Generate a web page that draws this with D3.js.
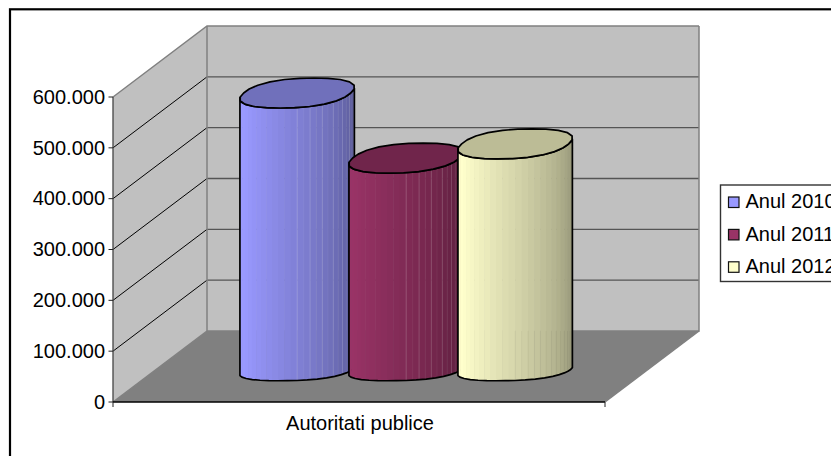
<!DOCTYPE html>
<html><head><meta charset="utf-8"><style>html,body{margin:0;background:#fff;overflow:hidden}svg{display:block}text{font-family:"Liberation Sans",Arial,sans-serif;fill:#000}</style>
<script src="https://cdn.jsdelivr.net/npm/d3@7"></script></head><body><svg id="c" width="831" height="456"></svg>
<script>
const categories=["Autoritati publice"];
const seriesNames=["Anul 2010","Anul 2011","Anul 2012"];
const seriesValues=[541000,413000,441000];
const yTicks=[0,100000,200000,300000,400000,500000,600000];
const lightColors=["#9999ff","#993366","#ffffcc"];
const topColors=["#7070bb","#70254b","#bcbc96"];
const svg=d3.select("#c");
const y=d3.scaleLinear().domain([0,600000]).range([402,97]);
const x=d3.scaleBand().domain(categories).range([113,605]);
const dx=d3.scaleLinear().domain([0,1]).range([0,94]);
const dy=d3.scaleLinear().domain([0,1]).range([0,-71]);
const fmt=v=>d3.format(",")(v).replace(/,/g,".");
const L=d3.line();
const x0=x.range()[0],x1=x.range()[1];
const FS=20;
svg.append("rect").attr("x",10).attr("y",9.3).attr("width",900).attr("height",600).attr("fill","#fff").attr("stroke","#000").attr("stroke-width",2.2);
const pts=(a)=>a.map(p=>p.join(",")).join(" ");
const P=(xx,v,d)=>[xx+dx(d),y(v)+dy(d)];
svg.append("polygon").attr("points",pts([P(x0,0,1),P(x1,0,1),P(x1,600000,1),P(x0,600000,1)])).attr("fill","#c0c0c0");
svg.append("polygon").attr("points",pts([P(x0,0,0),P(x0,0,1),P(x0,600000,1),P(x0,600000,0)])).attr("fill","#c0c0c0");
svg.append("polygon").attr("points",pts([P(x0,0,0),P(x0,0,1),P(x1,0,1),P(x1,0,0)])).attr("fill","#808080");
yTicks.slice(1,-1).forEach(v=>{
 svg.append("path").attr("d",L([P(x0,v,0),P(x0,v,1)])).attr("fill","none").attr("stroke","#000").attr("stroke-width",1);
 svg.append("path").attr("d",L([P(x0,v,1),P(x1,v,1)])).attr("fill","none").attr("stroke","#555").attr("stroke-width",1.4);
});
[[P(x0,0,1),P(x0,600000,1)],[P(x0,600000,0),P(x0,600000,1),P(x1,600000,1)],[P(x0,0,0),P(x0,0,1)],[P(x1,0,0),P(x1,0,1)],[P(x1,600000,1),P(x1,0,1),P(x0,0,1)]].forEach(s=>{
 svg.append("path").attr("d",L(s)).attr("fill","none").attr("stroke","#808080").attr("stroke-width",1.5);
});
svg.append("path").attr("d",L([P(x0,600000,0),P(x0,0,0)])).attr("fill","none").attr("stroke","#444").attr("stroke-width",1.3);
svg.append("path").attr("d",L([P(x0,0,0),P(x1,0,0)])).attr("fill","none").attr("stroke","#000").attr("stroke-width",1.5);
yTicks.forEach(v=>{
 svg.append("line").attr("x1",x0-4.5).attr("x2",x0).attr("y1",y(v)).attr("y2",y(v)).attr("stroke","#222");
 svg.append("text").attr("x",x0-8).attr("y",y(v)+6.8).attr("text-anchor","end").attr("font-size",FS).text(fmt(v));
});
svg.append("line").attr("x1",x0).attr("x2",x0).attr("y1",402).attr("y2",407).attr("stroke","#222");
svg.append("line").attr("x1",x1).attr("x2",x1).attr("y1",402).attr("y2",407).attr("stroke","#222");
svg.append("text").attr("x",x.bandwidth()/2+x0+1).attr("y",430).attr("text-anchor","middle").attr("font-size",FS).text(categories[0]);
const step=109, rx=53.5, vx=17, baseD=0.44;
const cx0=255.8, a=Math.atan2(vx,rx), sq=0.86;
seriesValues.forEach((val,i)=>{
 const bx=cx0+i*step+dx(baseD);
 const by=y(0)+dy(baseD);
 const topY=y(val)-34;
 const ring=(cy,vy,a0,a1,n)=>d3.range(n+1).map(k=>{const t=a0+(a1-a0)*k/n;
   const C=Math.cos(t),S=Math.sin(t);const m=Math.pow(Math.pow(Math.abs(C),2/sq)+Math.pow(Math.abs(S),2/sq),-sq/2);
   return [bx+m*(rx*C+vx*S),cy-m*vy*S];});
 const front=(cy,vy)=>ring(cy,vy,Math.PI+a,2*Math.PI+a,18);
 const body=[...front(by,10),...front(topY,15).reverse()];
 const id="cl"+i;
 svg.append("clipPath").attr("id",id).append("path").attr("d",L(body)+"Z");
 const g=svg.append("g").attr("clip-path",`url(#${id})`);
 const n=28, R=58;
 const col=d3.rgb(lightColors[i]);
 const xs=d3.range(n+1).map(k=>bx-R*Math.cos(Math.PI*k/n));
 for(let k=0;k<n;k++){
  const f=1-0.44*Math.pow(Math.max(0,k-3)/(n-4),1.2);
  const c=d3.rgb(col.r*f,col.g*f,col.b*f);
  g.append("rect").attr("x",xs[k]).attr("width",xs[k+1]-xs[k]+.5).attr("y",0).attr("height",456).attr("fill",c);
 }
 for(let k=14;k<n;k+=1){
  if(i<2) g.append("line").attr("x1",xs[k]).attr("x2",xs[k]).attr("y1",0).attr("y2",456).attr("stroke","#fff").attr("stroke-opacity",k%2?0.06:0.16);
  else g.append("line").attr("x1",xs[k]).attr("x2",xs[k]).attr("y1",P(x0,0,1)[1]).attr("y2",456).attr("stroke","#000").attr("stroke-opacity",0.04);
 }
 svg.append("path").attr("d",L(body)+"Z").attr("fill","none").attr("stroke","#000").attr("stroke-width",1.7).attr("stroke-linejoin","round");
 svg.append("path").attr("d",L(ring(topY,15,0,2*Math.PI,24))+"Z").attr("fill",topColors[i]).attr("stroke","#000").attr("stroke-width",1.7).attr("stroke-linejoin","round");
});
svg.append("rect").attr("x",720.5).attr("y",185).attr("width",130).attr("height",96.5).attr("fill","#fff").attr("stroke","#333").attr("stroke-width",1.4);
seriesNames.forEach((n,i)=>{
 const ly=202.5+i*32.4;
 svg.append("rect").attr("x",728.5).attr("y",ly-5.5).attr("width",10.5).attr("height",10.5).attr("fill",lightColors[i]).attr("stroke","#111").attr("stroke-width",1.2);
 svg.append("text").attr("x",745.5).attr("y",ly+5.8).attr("font-size",FS).text(n);
});
</script></body></html>
